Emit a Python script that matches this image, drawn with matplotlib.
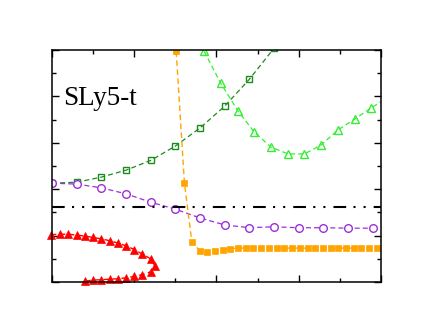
import matplotlib
matplotlib.use("Agg")
import matplotlib.pyplot as plt
from matplotlib.ticker import MultipleLocator

# %% data (arbitrary units, no axis labels)
sq_x = [0.0, 0.3, 0.6, 0.9, 1.2, 1.5, 1.8, 2.1, 2.4, 2.7]
sq_y = [2.13, 2.15, 2.26, 2.41, 2.62, 2.93, 3.32, 3.79, 4.37, 5.04]

circ_x = [0.0, 0.3, 0.6, 0.9, 1.2, 1.5, 1.8, 2.1, 2.4, 2.7, 3.0, 3.3, 3.6, 3.9]
circ_y = [2.13, 2.11, 2.03, 1.90, 1.72, 1.57, 1.38, 1.23, 1.17, 1.19, 1.17, 1.17, 1.16, 1.16]

tri_x = [1.85, 2.05, 2.26, 2.46, 2.66, 2.87, 3.07, 3.27, 3.48, 3.68, 3.88, 4.09]
tri_y = [4.97, 4.29, 3.69, 3.23, 2.91, 2.76, 2.76, 2.95, 3.28, 3.51, 3.75, 3.99]

fsq_x = [1.51, 1.61, 1.70, 1.80, 1.89, 1.98, 2.08, 2.17, 2.26, 2.36, 2.45, 2.54,
         2.64, 2.73, 2.82, 2.92, 3.01, 3.11, 3.20, 3.29, 3.39, 3.48, 3.57, 3.67,
         3.76, 3.85, 3.95]
fsq_y = [4.97, 2.14, 0.87, 0.67, 0.64, 0.67, 0.70, 0.72, 0.73, 0.73, 0.73, 0.73,
         0.73, 0.73, 0.73, 0.73, 0.73, 0.73, 0.73, 0.73, 0.73, 0.73, 0.73, 0.73,
         0.73, 0.73, 0.73]

ftri_x = [-0.015, 0.1, 0.2, 0.3, 0.4, 0.5, 0.6, 0.7, 0.8, 0.9, 1.0, 1.1, 1.2, 1.25,
          1.2, 1.1, 1.0, 0.9, 0.8, 0.7, 0.6, 0.5, 0.4]
ftri_y = [1.02, 1.03, 1.03, 1.01, 0.99, 0.96, 0.93, 0.89, 0.84, 0.78, 0.70, 0.60,
          0.50, 0.35, 0.22, 0.16, 0.12, 0.09, 0.07, 0.06, 0.05, 0.04, 0.02]

hline_y = 1.61
label = "SLy5-t"

# %%
fig = plt.figure(figsize=(4.3, 3.32), dpi=100)
ax = fig.add_axes([0.1209, 0.1506, 0.7651, 0.6988])

dash = (0, (4, 2.5))
ax.plot(sq_x, sq_y, ls=dash, lw=0.9, color="#1a8c1a", marker="s", ms=5,
        mfc="none", mec="#1a8c1a", mew=1.0)
ax.plot(circ_x, circ_y, ls=dash, lw=0.9, color="#9b30d9", marker="o", ms=5.5,
        mfc="white", mec="#9b30d9", mew=1.0)
ax.plot(tri_x, tri_y, ls=dash, lw=0.9, color="#33ee33", marker="^", ms=6,
        mfc="none", mec="#33ee33", mew=1.0)
ax.plot(fsq_x, fsq_y, ls=dash, lw=1.0, color="#ffa500", marker="s", ms=4.5,
        mfc="#ffa500", mec="#ffa500", mew=0.5)
ax.plot(ftri_x, ftri_y, ls=dash, lw=1.0, color="#ff0000", marker="^", ms=5.5,
        mfc="#ff0000", mec="#ff0000", mew=0.5, clip_on=False)
ax.axhline(hline_y, color="black", lw=1.5,
           ls=(0, (6.1, 3.5, 1.0, 3.85, 1.0, 3.85)))

ax.text(0.134, 3.81, label, fontsize=19.5, family="Liberation Serif",
        va="baseline", ha="left")

ax.set_xlim(0, 4)
ax.set_ylim(0, 5)
ax.xaxis.set_major_locator(MultipleLocator(1))
ax.xaxis.set_minor_locator(MultipleLocator(0.5))
ax.yaxis.set_major_locator(MultipleLocator(1))
ax.yaxis.set_minor_locator(MultipleLocator(0.5))
ax.tick_params(which="both", direction="in", top=True, right=True,
               labelbottom=False, labelleft=False, width=1.0)
ax.tick_params(which="major", length=5)
ax.tick_params(which="minor", length=3)
for s in ax.spines.values():
    s.set_linewidth(1.1)

fig.savefig("out.png", dpi=100, facecolor="w")
